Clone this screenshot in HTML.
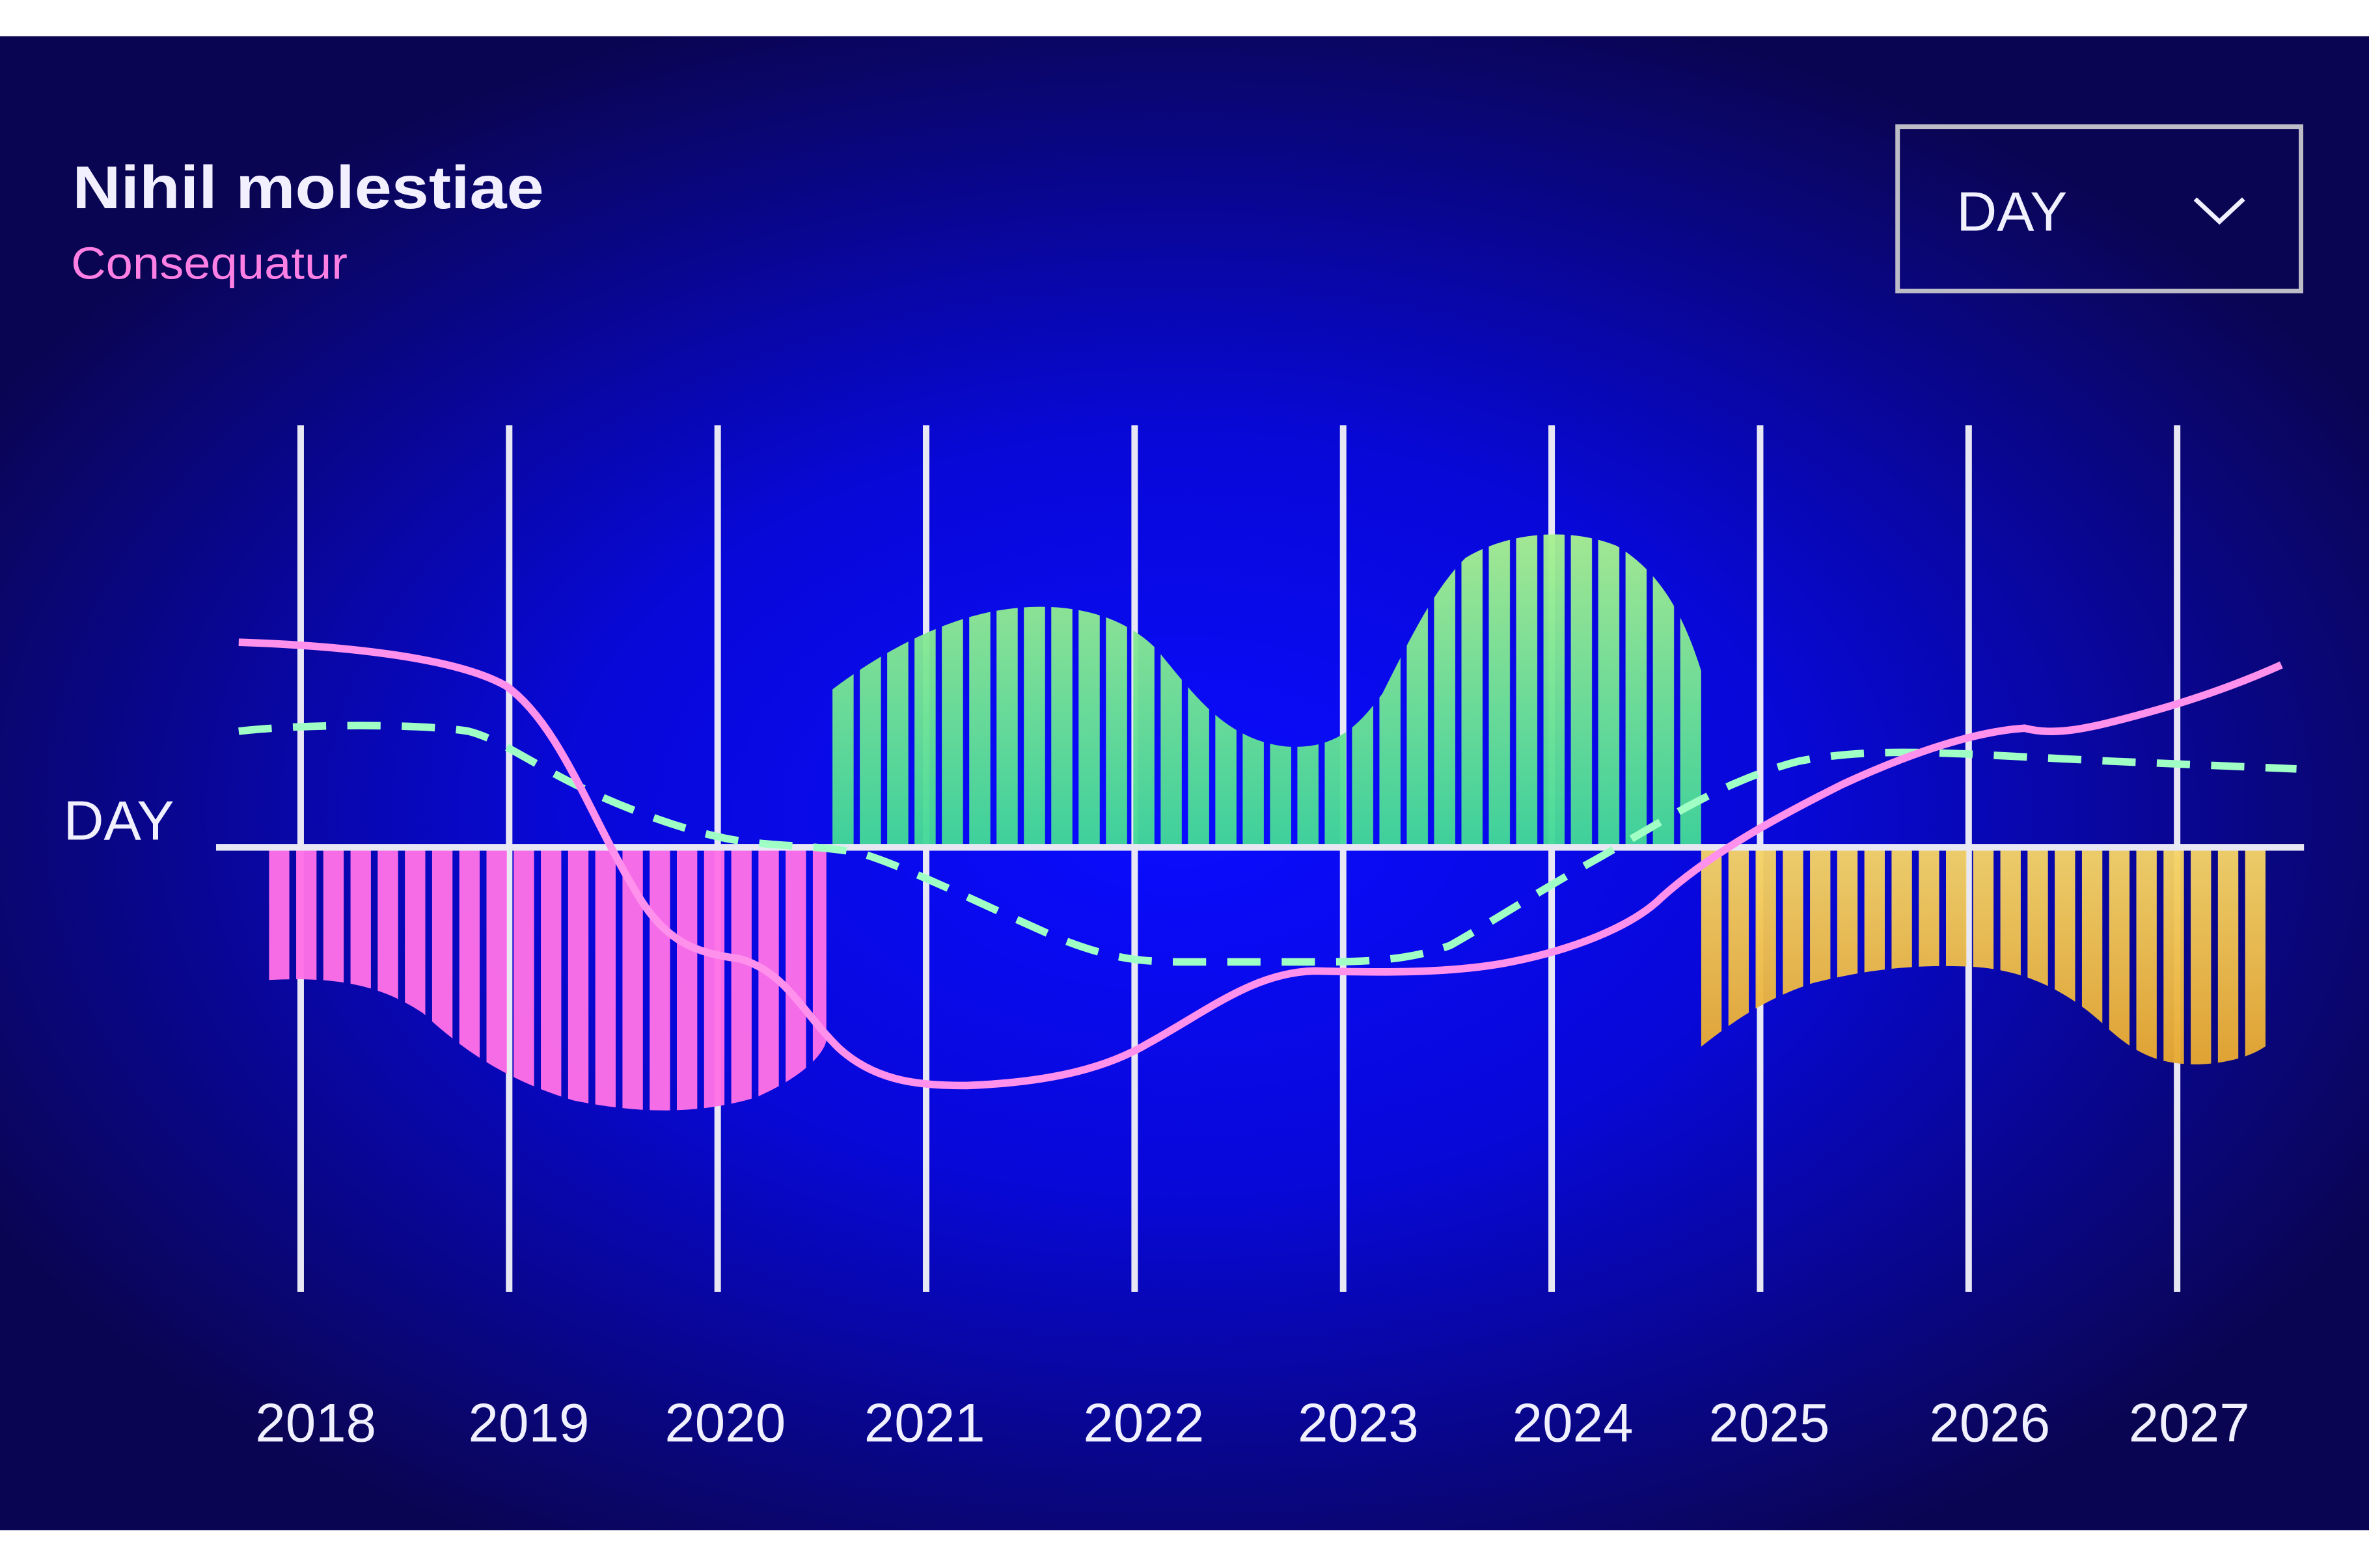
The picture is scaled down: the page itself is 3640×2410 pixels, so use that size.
<!DOCTYPE html>
<html><head><style>html,body{margin:0;padding:0;background:#fff}svg{display:block}</style></head>
<body>
<svg width="3640" height="2410" viewBox="0 0 1568 1040" preserveAspectRatio="none" xmlns="http://www.w3.org/2000/svg" font-family="Liberation Sans, sans-serif">
<defs>
<radialGradient id="bg" cx="780" cy="540" r="900" gradientUnits="userSpaceOnUse" gradientTransform="translate(780 540) scale(1 0.62) translate(-780 -540)">
<stop offset="0" stop-color="#0a0cff"/><stop offset="0.45" stop-color="#0808d8"/><stop offset="1" stop-color="#0a0552"/></radialGradient>
<linearGradient id="gg" x1="0" y1="355" x2="0" y2="562" gradientUnits="userSpaceOnUse"><stop offset="0" stop-color="#a8f090"/><stop offset="1" stop-color="#40d898"/></linearGradient>
<linearGradient id="yg" x1="0" y1="562" x2="0" y2="706" gradientUnits="userSpaceOnUse"><stop offset="0" stop-color="#f5d468"/><stop offset="1" stop-color="#e8a830"/></linearGradient>
<clipPath id="cp"><path d="M178 562 L178 650 C220 648 250 652 280 672 C310 700 340 718 380 730 C420 738 460 740 500 728 C530 715 545 700 547 690 L547 562Z"/></clipPath>
<clipPath id="cg"><path d="M550 562 L550 458 C580 435 620 412 660 405 C700 398 740 405 765 430 C790 460 810 490 850 495 C885 498 900 480 915 460 C935 420 950 390 970 370 C1000 352 1040 350 1070 362 C1100 380 1115 410 1126 445 L1126 562Z"/></clipPath>
<clipPath id="cy"><path d="M1125 562 L1125 695 C1150 675 1170 662 1200 652 C1240 642 1270 640 1300 641 C1340 642 1370 658 1395 682 C1415 700 1430 706 1455 706 C1480 705 1495 698 1502 692 L1502 562Z"/></clipPath>
<pattern id="pb" x="178" y="0" width="18" height="1045" patternUnits="userSpaceOnUse"><rect x="0" y="0" width="13.5" height="1045" fill="#ff70e8"/></pattern>
<pattern id="pg" x="551" y="0" width="18.1" height="1045" patternUnits="userSpaceOnUse"><rect x="0" y="0" width="14" height="1045" fill="url(#gg)"/></pattern>
<pattern id="py" x="1126" y="0" width="18" height="1045" patternUnits="userSpaceOnUse"><rect x="0" y="0" width="13.5" height="1045" fill="url(#yg)"/></pattern>
</defs>
<rect x="0" y="0" width="1568" height="1045" fill="#fff"/>
<rect x="0" y="24" width="1568" height="991" fill="url(#bg)"/>
<text x="48" y="138" font-size="40" font-weight="bold" fill="#f2f0ff" textLength="312" lengthAdjust="spacingAndGlyphs">Nihil molestiae</text>
<text x="47" y="185" font-size="30" fill="#ff80e4" textLength="183" lengthAdjust="spacingAndGlyphs">Consequatur</text>
<rect x="1256" y="84" width="267" height="109" fill="none" stroke="#bdbdc8" stroke-width="3"/>
<text x="1295" y="153" font-size="37" fill="#f0f0ff">DAY</text>
<polyline points="1453,132 1469,147 1485,132" fill="none" stroke="#f0f0ff" stroke-width="3"/>
<text x="42" y="557" font-size="37" fill="#f0f0ff">DAY</text>
<g stroke="#e8e8f4" stroke-width="4.3">
<line x1="199" y1="282" x2="199" y2="857"/><line x1="337" y1="282" x2="337" y2="857"/><line x1="475" y1="282" x2="475" y2="857"/><line x1="613" y1="282" x2="613" y2="857"/><line x1="751" y1="282" x2="751" y2="857"/><line x1="889" y1="282" x2="889" y2="857"/><line x1="1027" y1="282" x2="1027" y2="857"/><line x1="1165" y1="282" x2="1165" y2="857"/><line x1="1303" y1="282" x2="1303" y2="857"/><line x1="1441" y1="282" x2="1441" y2="857"/>
</g>
<rect x="170" y="540" width="390" height="220" fill="url(#pb)" clip-path="url(#cp)" opacity="0.96"/>
<rect x="545" y="340" width="590" height="230" fill="url(#pg)" clip-path="url(#cg)" opacity="0.96"/>
<rect x="1120" y="555" width="390" height="160" fill="url(#py)" clip-path="url(#cy)" opacity="0.96"/>
<line x1="143" y1="562" x2="1525" y2="562" stroke="#e8e8f4" stroke-width="4.5"/>
<path d="M158 485 C200 480 280 480 310 485 C330 490 350 505 380 520 C410 535 450 550 480 556 C510 562 540 560 570 566 C600 575 650 600 700 622 C740 638 760 638 790 638 L860 638 C900 638 930 638 960 627 C990 610 1020 590 1060 568 C1100 545 1140 518 1190 505 C1230 497 1270 499 1300 500 L1400 505 L1520 510" fill="none" stroke="#a0ffc4" stroke-width="5" stroke-dasharray="22 14"/>
<path d="M158 426 C220 428 300 435 335 455 C370 480 390 540 420 590 C440 625 460 632 490 636 C520 645 530 670 555 695 C580 718 610 720 640 720 C690 718 730 710 760 692 C800 670 830 645 870 644 C910 645 960 646 1000 638 C1040 630 1080 615 1100 595 C1130 568 1170 545 1220 520 C1270 497 1310 485 1340 483 C1360 488 1380 484 1420 473 C1460 462 1490 450 1510 441" fill="none" stroke="#ff90ec" stroke-width="5"/>
<g font-size="36" fill="#f0f0ff" text-anchor="middle">
<text x="209" y="956">2018</text><text x="350" y="956">2019</text><text x="480" y="956">2020</text><text x="612" y="956">2021</text><text x="757" y="956">2022</text><text x="899" y="956">2023</text><text x="1041" y="956">2024</text><text x="1171" y="956">2025</text><text x="1317" y="956">2026</text><text x="1449" y="956">2027</text>
</g>
</svg>
</body></html>
